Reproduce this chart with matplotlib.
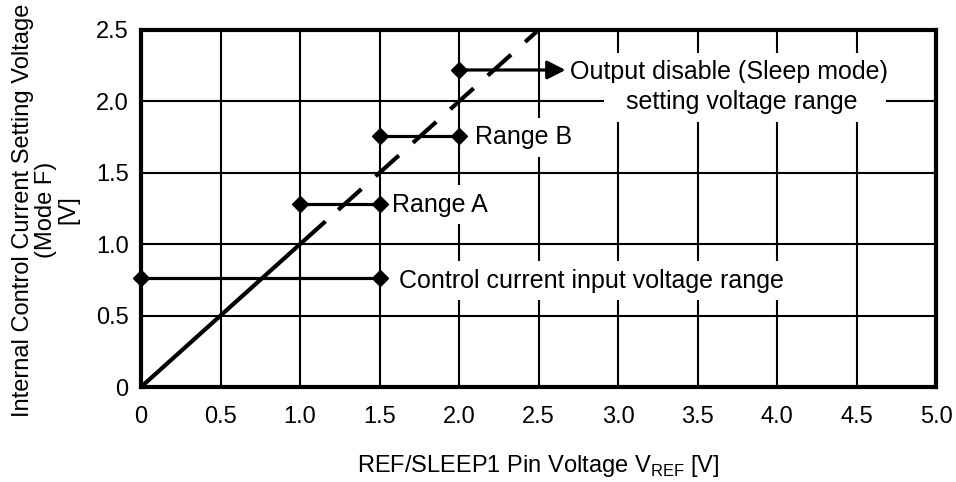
import matplotlib
matplotlib.use('Agg')
import matplotlib.pyplot as plt

plt.rcParams['font.family'] = ['Liberation Sans', 'DejaVu Sans']
plt.rcParams['mathtext.fontset'] = 'custom'
plt.rcParams['mathtext.rm'] = 'Liberation Sans'
plt.rcParams['lines.scale_dashes'] = False

# diagonal: V internal = V ref (solid part, then dashed part)
solid_x = [0.0, 1.16]
dashed_x = [1.24, 2.5]

# range bars (y level, start, end)
range_y = [0.76, 1.28, 1.76]
range_x0 = [0.0, 1.0, 1.5]
range_x1 = [1.5, 1.5, 2.0]
range_labels = ["Control current input voltage range", "Range A", "Range B"]
label_pos = [(1.62, 0.745), (1.58, 1.275), (2.1, 1.75)]

# sleep range arrow
sleep_y = 2.22
sleep_x0 = 2.0
sleep_x1 = 2.67

xticks = [0, 0.5, 1.0, 1.5, 2.0, 2.5, 3.0, 3.5, 4.0, 4.5, 5.0]
xtick_labels = ["0", "0.5", "1.0", "1.5", "2.0", "2.5", "3.0", "3.5", "4.0", "4.5", "5.0"]
yticks = [0, 0.5, 1.0, 1.5, 2.0, 2.5]
ytick_labels = ["0", "0.5", "1.0", "1.5", "2.0", "2.5"]

fig = plt.figure(figsize=(9.56, 4.82), dpi=100)
ax = fig.add_axes([141/956, 1-387/482, (936-141)/956, (387-30)/482])

ax.set_xlim(0, 5)
ax.set_ylim(0, 2.5)
ax.set_xticks(xticks)
ax.set_xticklabels(xtick_labels)
ax.set_yticks(yticks)
ax.set_yticklabels(ytick_labels)
ax.tick_params(length=0, labelsize=17)
ax.tick_params(axis='y', pad=9)
ax.tick_params(axis='x', pad=14)
ax.set_axisbelow(True)
ax.grid(True, color='black', lw=1.5)
for s in ax.spines.values():
    s.set_linewidth(3)

box = dict(facecolor='white', edgecolor='none', boxstyle='square,pad=0.3')

# range bars with diamond ends
for y, x0, x1 in zip(range_y, range_x0, range_x1):
    ax.plot([x0, x1], [y, y], color='black', lw=2.3, marker='D', ms=8,
            solid_capstyle='butt', zorder=3, clip_on=False)

for txt, (tx, ty) in zip(range_labels, label_pos):
    ax.text(tx, ty, txt, fontsize=18, ha='left', va='center', bbox=box, zorder=1.8)

# sleep arrow
ax.plot([sleep_x0], [sleep_y], color='black', marker='D', ms=8, zorder=3)
ax.annotate('', xy=(sleep_x1, sleep_y), xytext=(sleep_x0, sleep_y),
            arrowprops=dict(arrowstyle='-|>,head_length=0.55,head_width=0.28', lw=2.3,
                            color='black', mutation_scale=20, shrinkA=0, shrinkB=0),
            zorder=3)
ax.text(2.7, 2.205, "Output disable (Sleep mode)", fontsize=18, ha='left', va='center',
        bbox=box, zorder=1.8)
ax.text(3.8, 1.995, "  setting voltage range   ", fontsize=18, ha='center', va='center',
        bbox=box, zorder=1.8)

# diagonal line
ax.plot(solid_x, solid_x, color='black', lw=3, zorder=4, solid_capstyle='butt')
ax.plot(dashed_x, dashed_x, color='black', lw=3, zorder=4, dashes=(22.5, 13.7),
        dash_capstyle='butt')

ax.set_xlabel("REF/SLEEP1 Pin Voltage V$_{\\mathrm{REF}}$ [V]", fontsize=17, labelpad=18)
fig.text(46/956, 1-210/482, "Internal Control Current Setting Voltage\n(Mode F)\n[V]",
         rotation=90, ha='center', va='center', multialignment='center',
         fontsize=17, linespacing=1.05)

fig.savefig('out.png', dpi=100)
